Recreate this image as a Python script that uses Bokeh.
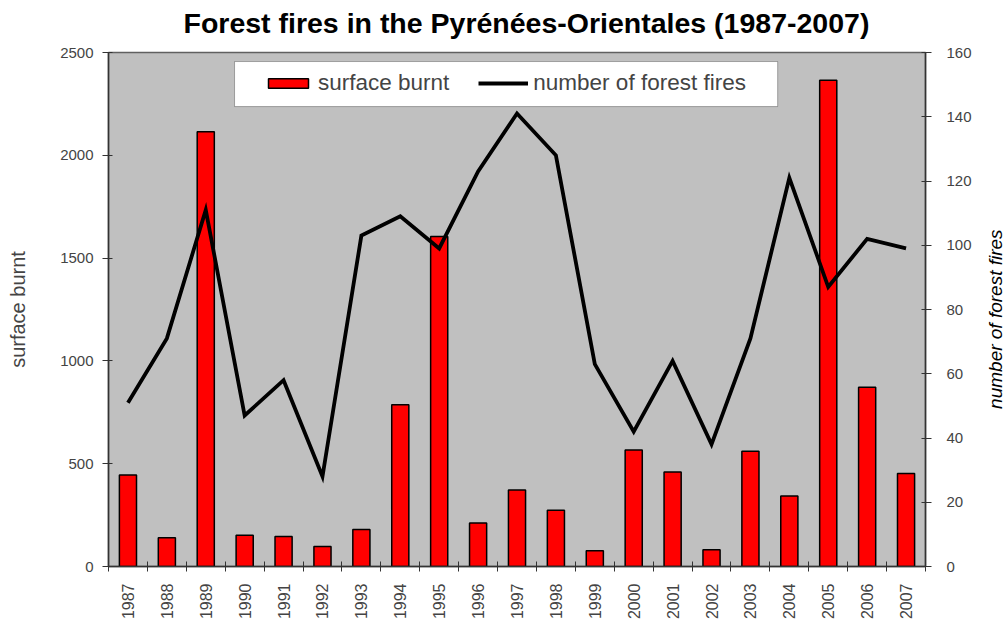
import math
from bokeh.plotting import figure
from bokeh.models import (Range1d, LinearAxis, FixedTicker, Legend, LegendItem,
                          BoxAnnotation, ColumnDataSource, Label, Title)
from bokeh.embed import file_html
from bokeh.resources import INLINE

years = ["1987", "1988", "1989", "1990", "1991", "1992", "1993", "1994", "1995", "1996",
         "1997", "1998", "1999", "2000", "2001", "2002", "2003", "2004", "2005", "2006", "2007"]
surface_burnt = [445, 140, 2115, 152, 146, 97, 180, 787, 1605, 212,
                 372, 274, 77, 567, 460, 82, 560, 343, 2365, 872, 452]
number_of_fires = [51, 71, 111, 47, 58, 28, 103, 109, 99, 123,
                   141, 128, 63, 42, 64, 38, 71, 121, 87, 102, 99]
left_ticks = [0, 500, 1000, 1500, 2000, 2500]
right_ticks = [0, 20, 40, 60, 80, 100, 120, 140, 160]

idx = list(range(len(years)))
src = ColumnDataSource(dict(x=idx, surface=surface_burnt, fires=number_of_fires))

FONT = "Liberation Sans"
AX = "#333333"

p = figure(width=1007, height=633, output_backend="svg", toolbar_location=None,
           x_range=Range1d(-0.5, len(years) - 0.5), y_range=Range1d(0, 2500),
           min_border_left=108, min_border_right=82, min_border_top=52, min_border_bottom=67)
p.extra_y_ranges = {"right": Range1d(0, 160)}

# small spacer title next to the frame, then the real title above it
p.add_layout(Title(text=" ", text_font_size="8px", standoff=1), "above")
p.add_layout(Title(text="Forest fires in the Pyrénées-Orientales (1987-2007)",
                   align="left", offset=75, standoff=4,
                   text_font=FONT, text_font_size="28.5px", text_font_style="bold",
                   text_color="black"), "above")

p.background_fill_color = "#C0C0C0"
p.border_fill_color = "white"
p.outline_line_color = "#606060"
p.outline_line_width = 1.5
p.xgrid.visible = False
p.ygrid.visible = False

# legend frame (white box behind the legend entries)
p.add_layout(BoxAnnotation(left=2.74, right=16.70, bottom=2237, top=2456,
                           fill_color="white", fill_alpha=1.0,
                           line_color="black", line_width=1, level="underlay"))

bars = p.vbar(x="x", top="surface", width=0.44, source=src, fill_color="#FF0000",
              line_color="black", line_width=1.5)
line = p.line(x="x", y="fires", source=src, y_range_name="right", line_color="black",
              line_width=3.8, line_join="miter")

# x axis
xa = p.xaxis[0]
xa.ticker = FixedTicker(ticks=idx, minor_ticks=[i - 0.5 for i in range(len(years) + 1)])
xa.major_label_overrides = {i: y for i, y in zip(idx, years)}
xa.major_label_orientation = math.pi / 2
xa.major_tick_line_color = None
xa.minor_tick_line_color = AX
xa.minor_tick_in = 5
xa.minor_tick_out = 5
xa.axis_line_color = AX
xa.axis_line_width = 1.5
xa.major_label_text_font = FONT
xa.major_label_text_font_size = "16px"
xa.major_label_standoff = 11

# left axis
ya = p.yaxis[0]
ya.ticker = FixedTicker(ticks=left_ticks)
ya.minor_tick_line_color = None
ya.major_tick_in = 4
ya.major_tick_out = 6
ya.major_tick_line_color = AX
ya.axis_line_color = AX
ya.axis_line_width = 1.5
ya.major_label_text_font = FONT
ya.major_label_text_font_size = "15px"
ya.major_label_standoff = 9
ya.axis_label = "surface burnt"
ya.axis_label_text_font = FONT
ya.axis_label_text_font_size = "20px"
ya.axis_label_text_font_style = "normal"
ya.axis_label_standoff = 28

# right axis
ra = LinearAxis(y_range_name="right", ticker=FixedTicker(ticks=right_ticks))
ra.minor_tick_line_color = None
ra.major_tick_in = 4
ra.major_tick_out = 6
ra.major_tick_line_color = AX
ra.axis_line_color = AX
ra.axis_line_width = 1.5
ra.major_label_text_font = FONT
ra.major_label_text_font_size = "15px"
ra.major_label_standoff = 15
p.add_layout(ra, "right")

# right axis title, reading bottom-to-top like the original
p.add_layout(Label(x=len(years) - 0.5 + 1.8, y=77, y_range_name="right",
                   text="number of forest fires", angle=math.pi / 2,
                   text_align="center", text_baseline="middle",
                   text_font=FONT, text_font_size="19px", text_font_style="italic",
                   text_color="black"), "right")

legend = Legend(items=[LegendItem(label="surface burnt", renderers=[bars]),
                       LegendItem(label="number of forest fires", renderers=[line])],
                orientation="horizontal", location=(145, 460),
                background_fill_alpha=0.0, border_line_alpha=0.0,
                label_text_font=FONT, label_text_font_size="22.5px",
                glyph_width=50, glyph_height=12, label_standoff=5,
                padding=10, spacing=29, margin=0)
p.add_layout(legend)

open("out.html", "w").write(file_html(p, INLINE))
